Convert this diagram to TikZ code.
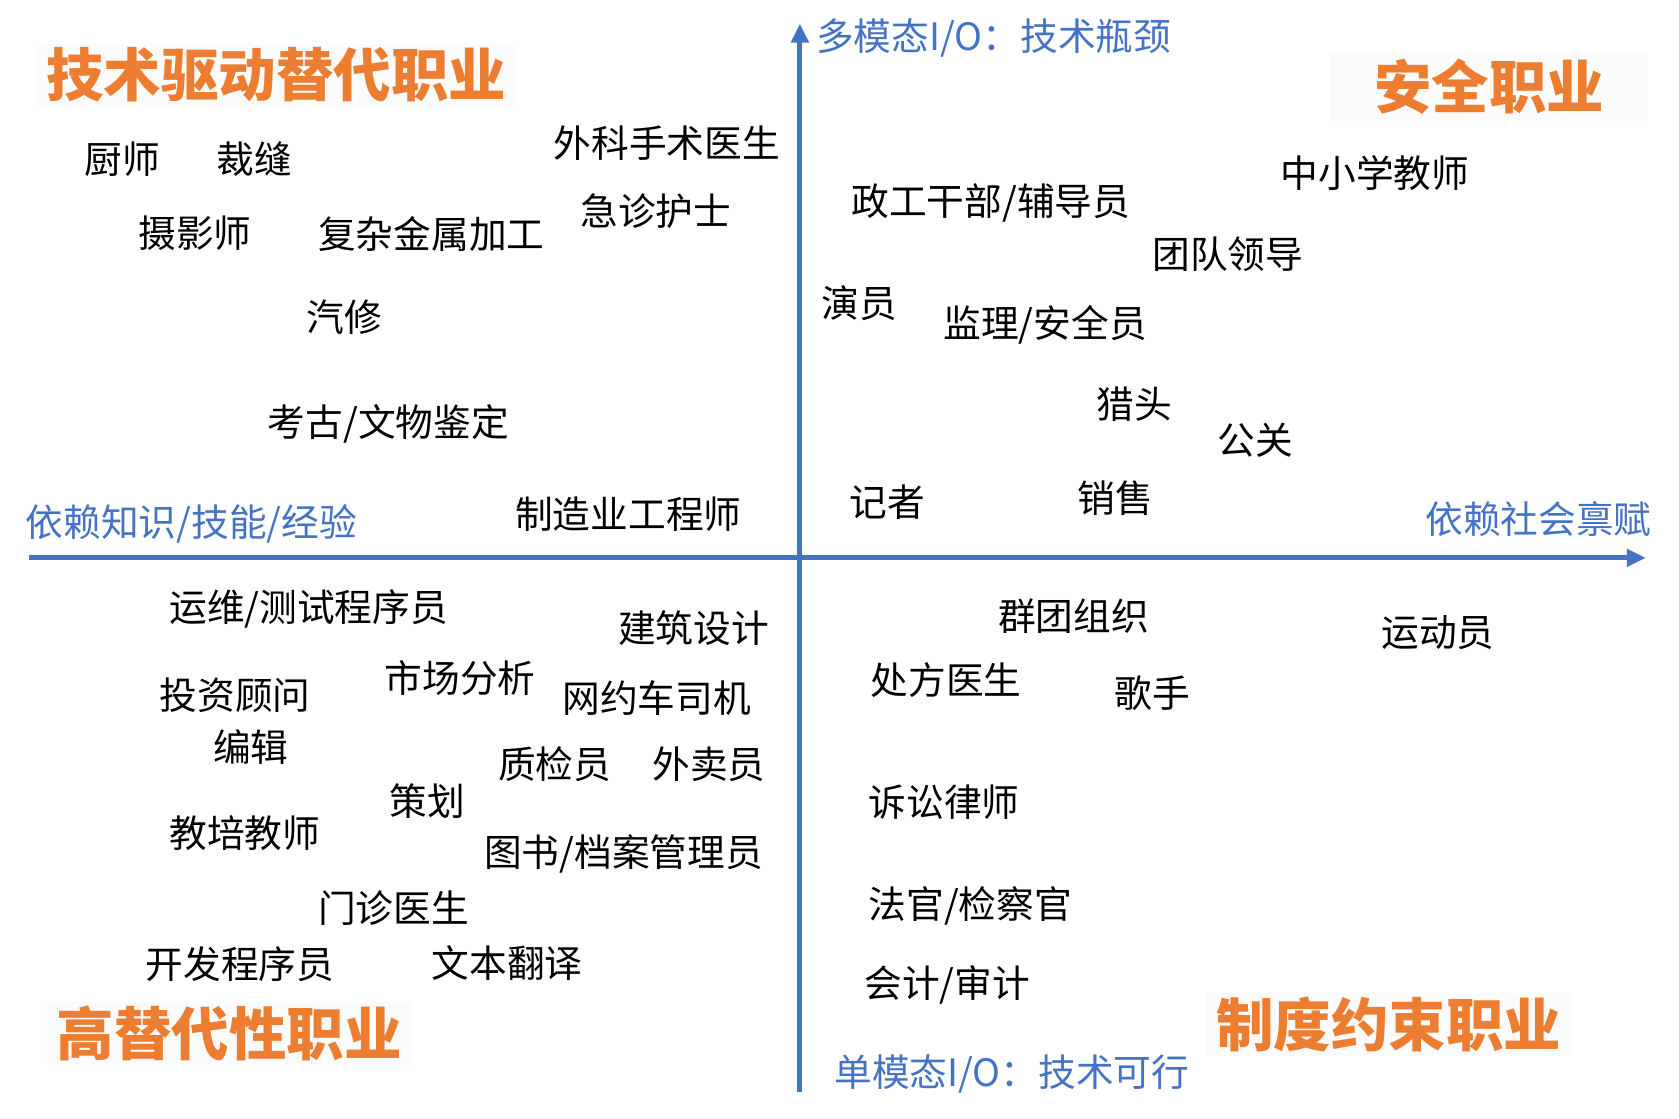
\documentclass[tikz,border=0pt]{standalone}
\usepackage{fontspec}
\setmainfont{Noto Sans CJK SC}
\usetikzlibrary{arrows.meta}
\definecolor{axblue}{HTML}{4472C4}
\definecolor{ttlorange}{HTML}{ED7D31}
\definecolor{ttlbg}{HTML}{FBFBFB}
\begin{document}
\begin{tikzpicture}[x=1.0708pt,y=-1.0708pt,
  lbl/.style={anchor=west,inner sep=0pt,font=\fontsize{37.7}{40}\selectfont},
  axlbl/.style={lbl,text=axblue},
  ttl/.style={inner xsep=10pt,inner ysep=4pt,font=\bfseries\fontsize{57.5}{60}\selectfont,text=ttlorange,fill=ttlbg},
  axisline/.style={draw=axblue,line width=5pt,-{Triangle[length=19pt,width=17pt]}}]
\useasboundingbox (0,0) rectangle (1568,1045);
% axes
\coordinate (ybot) at (747,1020);
\coordinate (ytop) at (747,22);
\coordinate (xl) at (27,521);
\coordinate (xr) at (1537,521);
\draw[axisline] (ybot) -- (ytop);
\draw[axisline] (xl) -- (xr);
% axis labels
\node[axlbl] (ytopl) at (762,35) {多模态I/O：技术瓶颈};
\node[axlbl] (ybotl) at (779,1003) {单模态I/O：技术可行};
\node[axlbl] (xleft) at (24,489) {依赖知识/技能/经验};
\node[axlbl] (xright) at (1331,485) {依赖社会禀赋};
% titles
\node[ttl] (t1) at (258,70) {技术驱动替代职业};
\node[ttl,inner xsep=44pt,inner ysep=6pt] (t2) at (1391,81) {安全职业};
\node[ttl] (t3) at (214,965) {高替代性职业};
\node[ttl] (t4) at (1297,957) {制度约束职业};
% top-left
\node[lbl] (a1) at (79,149) {厨师};
\node[lbl] (a2) at (202,149) {裁缝};
\node[lbl] (a3) at (517,134) {外科手术医生};
\node[lbl] (a4) at (542,197) {急诊护士};
\node[lbl] (a5) at (129,218) {摄影师};
\node[lbl] (a6) at (297,219) {复杂金属加工};
\node[lbl] (a7) at (286,296) {汽修};
\node[lbl] (a8) at (250,396) {考古/文物鉴定};
\node[lbl] (a9) at (481,480) {制造业工程师};
% top-right
\node[lbl] (b1) at (1196,162) {中小学教师};
\node[lbl] (b2) at (795,190) {政工干部/辅导员};
\node[lbl] (b3) at (1076,237) {团队领导};
\node[lbl] (b4) at (767,283) {演员};
\node[lbl] (b5) at (881,303) {监理/安全员};
\node[lbl] (b6) at (1024,377) {猎头};
\node[lbl] (b7) at (1137,411) {公关};
\node[lbl] (b8) at (793,469) {记者};
\node[lbl] (b9) at (1006,465) {销售};
% bottom-left
\node[lbl] (c1) at (158,569) {运维/测试程序员};
\node[lbl] (c2) at (577,587) {建筑设计};
\node[lbl] (c3) at (359,633) {市场分析};
\node[lbl] (c4) at (149,649) {投资顾问};
\node[lbl] (c5) at (525,652) {网约车司机};
\node[lbl] (c6) at (199,698) {编辑};
\node[lbl] (c7) at (465,714) {质检员};
\node[lbl] (c8) at (609,714) {外卖员};
\node[lbl] (c9) at (364,748) {策划};
\node[lbl] (c10) at (158,778) {教培教师};
\node[lbl] (c11) at (452,797) {图书/档案管理员};
\node[lbl] (c12) at (297,848) {门诊医生};
\node[lbl] (c13) at (136,900) {开发程序员};
\node[lbl] (c14) at (403,899) {文本翻译};
% bottom-right
\node[lbl] (d1) at (932,575) {群团组织};
\node[lbl] (d2) at (1290,591) {运动员};
\node[lbl] (d3) at (813,635) {处方医生};
\node[lbl] (d4) at (1041,647) {歌手};
\node[lbl] (d5) at (811,749) {诉讼律师};
\node[lbl] (d6) at (811,846) {法官/检察官};
\node[lbl] (d7) at (807,920) {会计/审计};
\end{tikzpicture}
\end{document}
